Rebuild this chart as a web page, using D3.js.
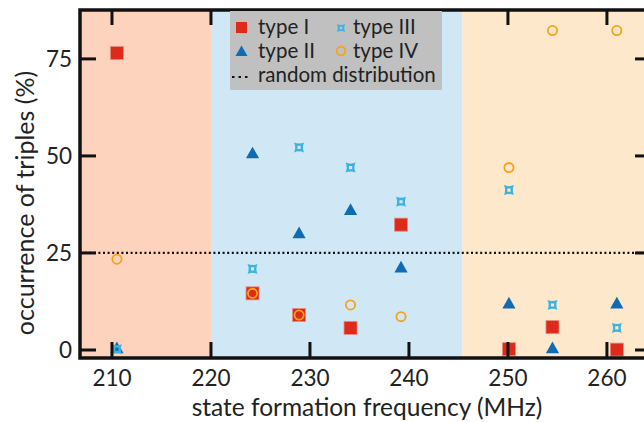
<!DOCTYPE html>
<html lang="en">
<head>
  <meta charset="utf-8">
  <title>Occurrence of triples</title>
  <script src="https://d3js.org/d3.v7.min.js"></script>
  <style>
    body { margin: 0; background: #fff; }
    text { font-family: Lato, "Open Sans", sans-serif; fill: #222; }
  </style>
</head>
<body>
<div id="chart"></div>
<script>
// state formation frequencies (MHz)
var freqs = [210.5, 224.2, 228.9, 234.1, 239.2, 250.1, 254.5, 261.0];
// occurrence (%) per type
var typeI   = [76.5, 14.6, 9.0, 5.7, 32.3, 0.2, 5.9, 0.1];
var typeII  = [0.0, 50.2, 29.6, 35.6, 20.8, 11.5, 0.0, 11.5];
var typeIII = [0.2, 20.9, 52.2, 47.0, 38.2, 41.2, 11.6, 5.7];
var typeIV  = [23.4, 14.6, 9.0, 11.6, 8.6, 47.0, 82.3, 82.3];
var randomLevel = 25;
var xTicks = [210, 220, 230, 240, 250, 260];
var yTicks = [0, 25, 50, 75];
// shaded frequency regions
var regions = [
  {from: 206.8, to: 220.0, color: "#fdd3be"},
  {from: 220.0, to: 245.4, color: "#d0e7f5"},
  {from: 245.4, to: 264.4, color: "#fde8cb"}
];

var W = 644, H = 422;
var pL = 80, pT = 10, pR = 650, pB = 358;

var svg = d3.select("#chart").append("svg")
  .attr("width", W).attr("height", H);

var x = d3.scaleLinear().domain([206.77, 264.35]).range([pL, pR]);
var y = d3.scaleLinear().domain([-2.06, 87.6]).range([pB, pT]);

// background regions
svg.selectAll("rect.region").data(regions).enter().append("rect")
  .attr("class", "region")
  .attr("x", function(d){ return x(d.from); })
  .attr("width", function(d){ return x(d.to) - x(d.from); })
  .attr("y", pT).attr("height", pB - pT)
  .attr("fill", function(d){ return d.color; });

// random distribution line
svg.append("line")
  .attr("x1", pL).attr("x2", pR)
  .attr("y1", y(randomLevel)).attr("y2", y(randomLevel))
  .attr("stroke", "#111").attr("stroke-width", 2.2)
  .attr("stroke-dasharray", "2,2.6");

// concave square marker (points at the corners) with a small square hole
function starPath(r) {
  var k = r * 0.55, h = r * 0.32;
  return "M" + (-r) + "," + (-r) + "Q0," + (-k) + " " + r + "," + (-r) +
    "Q" + k + ",0 " + r + "," + r +
    "Q0," + k + " " + (-r) + "," + r +
    "Q" + (-k) + ",0 " + (-r) + "," + (-r) + "Z" +
    "M" + (-h) + "," + (-h) + "L" + (-h) + "," + h + "L" + h + "," + h + "L" + h + "," + (-h) + "Z";
}
var triPath = "M0,-7.5L6.6,4.2L-6.6,4.2Z";

function pts(vals) {
  return vals.map(function(v, i){ return {f: freqs[i], v: v}; });
}

var plot = svg.append("g");

plot.selectAll("rect.t1").data(pts(typeI)).enter().append("rect")
  .attr("class", "t1")
  .attr("x", function(d){ return x(d.f) - 6.5; })
  .attr("y", function(d){ return y(d.v) - 6.5; })
  .attr("width", 13).attr("height", 13)
  .attr("fill", "#dd2a1b").attr("stroke", "#e88a80").attr("stroke-width", 0.8);

plot.selectAll("path.t2").data(pts(typeII)).enter().append("path")
  .attr("class", "t2")
  .attr("transform", function(d){ return "translate(" + x(d.f) + "," + (y(d.v) - 1) + ")"; })
  .attr("d", triPath)
  .attr("fill", "#0f6cb4");

plot.selectAll("path.t3").data(pts(typeIII)).enter().append("path")
  .attr("class", "t3")
  .attr("transform", function(d){ return "translate(" + x(d.f) + "," + y(d.v) + ")"; })
  .attr("d", starPath(5))
  .attr("fill", "#3bb2e0").attr("fill-rule", "evenodd");

plot.selectAll("circle.t4").data(pts(typeIV)).enter().append("circle")
  .attr("class", "t4")
  .attr("cx", function(d){ return x(d.f); })
  .attr("cy", function(d){ return y(d.v); })
  .attr("r", 4.6)
  .attr("fill", "none").attr("stroke", "#f5a31b").attr("stroke-width", 1.8);

// ticks (inward, on all sides)
var tk = svg.append("g").attr("stroke", "#111").attr("stroke-width", 3);
xTicks.forEach(function(t){
  tk.append("line").attr("x1", x(t)).attr("x2", x(t)).attr("y1", pB).attr("y2", pB - 16);
  tk.append("line").attr("x1", x(t)).attr("x2", x(t)).attr("y1", pT).attr("y2", pT + 15);
});
yTicks.forEach(function(t){
  tk.append("line").attr("x1", pL).attr("x2", pL + 16).attr("y1", y(t)).attr("y2", y(t));
  tk.append("line").attr("x1", pR).attr("x2", pR - 15).attr("y1", y(t)).attr("y2", y(t));
});

// frame
svg.append("rect")
  .attr("x", pL).attr("y", pT)
  .attr("width", pR - pL).attr("height", pB - pT)
  .attr("fill", "none").attr("stroke", "#111").attr("stroke-width", 3.5);

// tick labels
svg.selectAll("text.xt").data(xTicks).enter().append("text")
  .attr("class", "xt")
  .attr("x", function(d){ return x(d); }).attr("y", 386)
  .attr("text-anchor", "middle").attr("font-size", 22.5)
  .text(function(d){ return d; });

svg.selectAll("text.yt").data(yTicks).enter().append("text")
  .attr("class", "yt")
  .attr("x", 72).attr("y", function(d){ return y(d) + 8; })
  .attr("text-anchor", "end").attr("font-size", 22.5)
  .text(function(d){ return d; });

// axis titles
svg.append("text")
  .attr("x", 367).attr("y", 415.5)
  .attr("text-anchor", "middle").attr("font-size", 24.5)
  .text("state formation frequency (MHz)");

svg.append("text")
  .attr("transform", "translate(34,203) rotate(-90)")
  .attr("text-anchor", "middle").attr("font-size", 25)
  .text("occurrence of triples (%)");

// legend
var lg = svg.append("g");
lg.append("rect")
  .attr("x", 230).attr("y", 11).attr("width", 212).attr("height", 79)
  .attr("fill", "#c0c0c0");

lg.append("rect").attr("x", 236).attr("y", 22).attr("width", 11).attr("height", 11).attr("fill", "#dd2a1b");
lg.append("path").attr("transform", "translate(241.5,52)").attr("d", "M0,-6.5L6,4L-6,4Z").attr("fill", "#0f6cb4");
lg.append("path").attr("transform", "translate(341,28)").attr("d", starPath(4))
  .attr("fill", "#3bb2e0").attr("fill-rule", "evenodd");
lg.append("circle").attr("cx", 341).attr("cy", 51).attr("r", 4.3)
  .attr("fill", "none").attr("stroke", "#f5a31b").attr("stroke-width", 1.8);
lg.append("line").attr("x1", 232).attr("x2", 251).attr("y1", 77).attr("y2", 77)
  .attr("stroke", "#111").attr("stroke-width", 2.2).attr("stroke-dasharray", "2.5,4");

var legendText = [
  {t: "type I", x: 258, y: 34},
  {t: "type II", x: 258, y: 58},
  {t: "type III", x: 353, y: 34},
  {t: "type IV", x: 353, y: 58},
  {t: "random distribution", x: 258, y: 82}
];
lg.selectAll("text").data(legendText).enter().append("text")
  .attr("x", function(d){ return d.x; }).attr("y", function(d){ return d.y; })
  .attr("font-size", 20.5)
  .text(function(d){ return d.t; });
</script>
</body>
</html>
